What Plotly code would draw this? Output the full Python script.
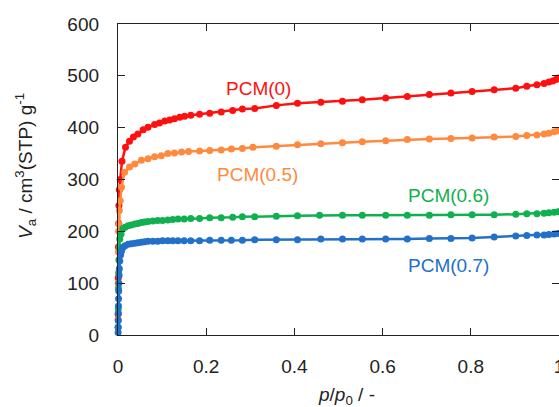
import plotly.graph_objects as go

# ---------------- data ----------------
series_names = ["PCM(0)", "PCM(0.5)", "PCM(0.6)", "PCM(0.7)"]

pcm0_x = [0.0003, 0.0006, 0.001, 0.0015, 0.002, 0.003, 0.005, 0.009, 0.017, 0.026,
          0.035, 0.045, 0.057, 0.068, 0.083, 0.094, 0.106, 0.117, 0.128, 0.140,
          0.151, 0.165, 0.185, 0.208, 0.234, 0.260, 0.282, 0.310, 0.359, 0.407,
          0.460, 0.509, 0.554, 0.607, 0.656, 0.706, 0.755, 0.803, 0.853, 0.902,
          0.927, 0.950, 0.966, 0.977, 0.986, 0.993, 0.998]
pcm0_y = [40, 110, 170, 215, 250, 280, 300, 335, 362, 374,
          382, 388, 396, 401, 406, 409, 413, 415, 417, 420,
          422, 424, 426, 428, 430, 433, 436, 437, 443, 447,
          449, 451, 454, 457, 460, 464, 467, 470, 473, 476,
          480, 483, 485, 488, 490, 493, 496]

pcm05_x = [0.0003, 0.0006, 0.001, 0.0015, 0.002, 0.003, 0.005, 0.008, 0.015, 0.026,
           0.038, 0.053, 0.068, 0.083, 0.098, 0.113, 0.128, 0.144, 0.160, 0.185,
           0.208, 0.234, 0.257, 0.282, 0.306, 0.359, 0.407, 0.460, 0.509, 0.554,
           0.607, 0.656, 0.706, 0.755, 0.803, 0.853, 0.902, 0.927, 0.950, 0.966,
           0.977, 0.989, 0.998]
pcm05_y = [30, 100, 160, 200, 214, 240, 259, 285, 314, 324,
           330, 337, 340, 344, 346, 350, 351, 353, 354, 355,
           356, 357, 359, 360, 362, 364, 367, 369, 371, 373,
           375, 377, 378, 379, 380, 382, 383, 385, 386, 388,
           389, 392, 394]

pcm06_x = [0.0003, 0.0006, 0.001, 0.0015, 0.002, 0.003, 0.004, 0.007, 0.011, 0.016,
           0.023, 0.030, 0.038, 0.045, 0.053, 0.060, 0.068, 0.079, 0.090, 0.101,
           0.113, 0.124, 0.136, 0.150, 0.165, 0.185, 0.208, 0.234, 0.260, 0.282,
           0.310, 0.359, 0.407, 0.457, 0.509, 0.554, 0.607, 0.656, 0.706, 0.755,
           0.803, 0.853, 0.902, 0.927, 0.950, 0.966, 0.977, 0.989, 0.998]
pcm06_y = [15, 50, 90, 120, 145, 169, 185, 195, 205, 208,
           211, 212, 214, 215, 217, 218, 219, 220, 221, 221,
           222, 223, 224, 224, 225, 225, 226, 226, 227, 228,
           228, 229, 230, 231, 231, 231, 231, 231, 231, 232,
           232, 232, 233, 234, 234, 235, 236, 237, 238]

pcm07_x = [0.0002, 0.0004, 0.0006, 0.0008, 0.001, 0.0013, 0.0016, 0.002, 0.0025, 0.003,
           0.004, 0.006, 0.008, 0.011, 0.016, 0.023, 0.030, 0.038, 0.045, 0.053,
           0.060, 0.068, 0.079, 0.090, 0.101, 0.113, 0.124, 0.136, 0.150, 0.165,
           0.185, 0.208, 0.234, 0.257, 0.282, 0.310, 0.359, 0.407, 0.460, 0.509,
           0.554, 0.607, 0.656, 0.706, 0.755, 0.803, 0.853, 0.902, 0.927, 0.950,
           0.966, 0.977, 0.989, 0.998]
pcm07_y = [5, 15, 28, 42, 56, 70, 85, 100, 115, 128,
           143, 155, 162, 169, 172, 175, 176, 177, 178, 179,
           180, 181, 181, 181, 182, 182, 182, 182, 182, 182,
           182, 183, 183, 183, 183, 184, 184, 184, 185, 185,
           185, 185, 185, 186, 186, 187, 189, 191, 192, 193,
           193, 194, 195, 196]

series_x = [pcm0_x, pcm05_x, pcm06_x, pcm07_x]
series_y = [pcm0_y, pcm05_y, pcm06_y, pcm07_y]
colors = ["#FF1010", "#FF8A3D", "#10B050", "#2270C8"]

label_x = [0.3185, 0.316, 0.749, 0.749]
label_y = [476, 310, 269, 135]

x_ticks = [0, 0.2, 0.4, 0.6, 0.8, 1]
x_ticktext = ["0", "0.2", "0.4", "0.6", "0.8", "1"]
y_ticks = [0, 100, 200, 300, 400, 500, 600]

# ---------------- figure ----------------
FONT = "Liberation Sans, Arial, sans-serif"
fig = go.Figure()
for name, xs, ys, c in zip(series_names, series_x, series_y, colors):
    fig.add_trace(go.Scatter(
        x=xs, y=ys, mode="lines+markers", name=name,
        line=dict(color=c, width=2.5),
        marker=dict(color=c, size=7),
        showlegend=False, cliponaxis=False,
    ))

for name, lx, ly, c in zip(series_names, label_x, label_y, colors):
    fig.add_annotation(x=lx, y=ly, xref="x", yref="y", text=name,
                       showarrow=False, font=dict(family=FONT, size=19, color=c))

fig.add_annotation(x=-0.21, y=0.545, xref="paper", yref="paper",
                   xanchor="center", yanchor="middle",
                   text="<i>V</i><sub>a</sub> / cm<sup>3</sup>(STP) g<sup>-1</sup>",
                   textangle=-90, showarrow=False,
                   font=dict(family=FONT, size=19, color="#222222"))
fig.add_annotation(x=0.519, y=-0.197, xref="paper", yref="paper",
                   xanchor="center", yanchor="middle",
                   text="<i>p</i>/<i>p</i><sub>0</sub> / -",
                   showarrow=False,
                   font=dict(family=FONT, size=19, color="#222222"))

axis_common = dict(showgrid=False, zeroline=False, showline=True, linecolor="#222222",
                   linewidth=1.3, mirror="ticks", ticks="inside", tickcolor="#222222",
                   tickwidth=1.2, ticklen=7, automargin=False,
                   ticklabeloverflow="allow",
                   tickfont=dict(family=FONT, size=19, color="#222222"))

fig.update_xaxes(range=[0, 1.0], tickvals=x_ticks, ticktext=x_ticktext,
                 ticklabelstandoff=14, **axis_common)
fig.update_yaxes(range=[0, 600], tickvals=y_ticks, ticklabelstandoff=14, **axis_common)

fig.update_layout(
    width=559, height=407,
    margin=dict(l=118, r=0, t=24, b=72, autoexpand=False),
    plot_bgcolor="white", paper_bgcolor="white",
)

# remove the default page margin so the figure fills the 559x407 window exactly
fig.write_html("out.html",
               config={"displayModeBar": False},
               post_script="document.body.style.margin='0';"
                           "document.body.style.overflow='hidden';")
